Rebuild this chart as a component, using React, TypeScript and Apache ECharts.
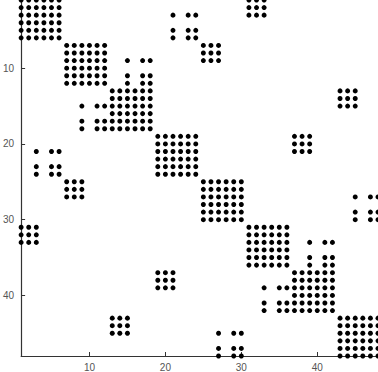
import React, { useEffect, useRef } from "react";
import * as echarts from "echarts";

// Matrix size and diagonal blocks (6x6 dense each), 1-based indices
const matrixSize = 48;
const diagonalBlockStarts = [1, 7, 13, 19, 25, 31, 37, 43];
const blockSize = 6;

// Off-diagonal couplings (mirrored across the diagonal)
const couplingRows1 = [1, 2, 3];
const couplingCols1 = [31, 32, 33];
const couplingRows2 = [3, 5, 6];
const couplingCols2 = [21, 23, 24];
const couplingRows3 = [7, 8, 9];
const couplingCols3 = [25, 26, 27];
const couplingRows4 = [9, 11, 12];
const couplingCols4 = [15, 17, 18];
const couplingRows5 = [13, 14, 15];
const couplingCols5 = [43, 44, 45];
const couplingRows6 = [19, 20, 21];
const couplingCols6 = [37, 38, 39];
const couplingRows7 = [27, 29, 30];
const couplingCols7 = [45, 47, 48];
const couplingRows8 = [33, 35, 36];
const couplingCols8 = [39, 41, 42];

const couplings: [number[], number[]][] = [
  [couplingRows1, couplingCols1],
  [couplingRows2, couplingCols2],
  [couplingRows3, couplingCols3],
  [couplingRows4, couplingCols4],
  [couplingRows5, couplingCols5],
  [couplingRows6, couplingCols6],
  [couplingRows7, couplingCols7],
  [couplingRows8, couplingCols8],
];

const tickValues = [10, 20, 30, 40];

function buildPoints(): number[][] {
  const set = new Set<string>();
  const pts: number[][] = [];
  const add = (r: number, c: number) => {
    const k = r + "," + c;
    if (!set.has(k)) {
      set.add(k);
      pts.push([c, r]);
    }
  };
  for (const s of diagonalBlockStarts) {
    for (let i = 0; i < blockSize; i++)
      for (let j = 0; j < blockSize; j++) add(s + i, s + j);
  }
  for (const [rows, cols] of couplings) {
    for (const r of rows)
      for (const c of cols) {
        add(r, c);
        add(c, r);
      }
  }
  return pts;
}

export default function App() {
  const ref = useRef<HTMLDivElement>(null);
  useEffect(() => {
    document.body.style.margin = "0";
    const chart = echarts.init(ref.current!, null, { renderer: "svg" });
    const axisCommon = {
      type: "value" as const,
      min: 1,
      max: matrixSize,
      splitLine: { show: false },
      axisLine: { show: true, lineStyle: { color: "#333", width: 1.2 } },
      axisTick: {
        show: true,
        inside: true,
        length: 4,
        customValues: tickValues,
        lineStyle: { color: "#333" },
      },
      axisLabel: {
        customValues: tickValues,
        color: "#555",
        fontSize: 10,
        fontFamily: "Liberation Sans, Arial, sans-serif",
      },
    };
    chart.setOption({
      animation: false,
      grid: { left: 19, right: 0, top: 0, bottom: 14, containLabel: false },
      xAxis: {
        ...axisCommon,
        axisLabel: { ...axisCommon.axisLabel, margin: 6 },
      },
      yAxis: {
        ...axisCommon,
        inverse: true,
        axisLabel: { ...axisCommon.axisLabel, margin: 7 },
      },
      series: [
        {
          type: "scatter",
          data: buildPoints(),
          symbol: "circle",
          symbolSize: 5,
          itemStyle: { color: "#000", opacity: 1 },
          clip: true,
        },
      ],
    });
    return () => chart.dispose();
  }, []);
  return (
    <div
      ref={ref}
      style={{ position: "absolute", left: 0, top: 0, width: 378, height: 372 }}
    />
  );
}
